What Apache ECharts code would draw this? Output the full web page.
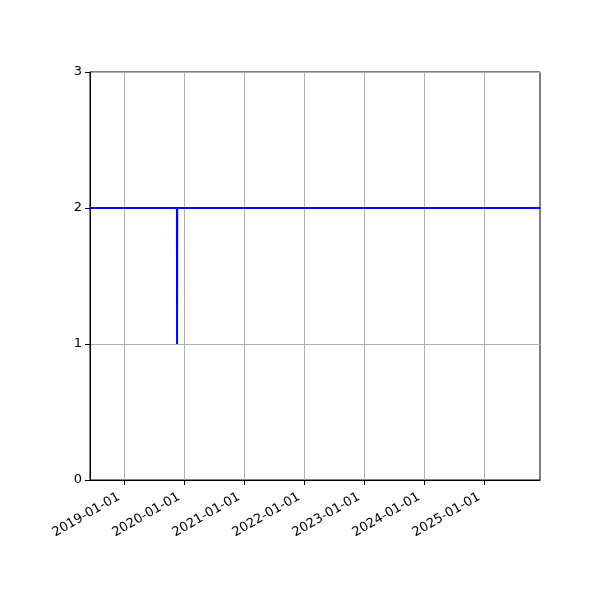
<!DOCTYPE html>
<html>
<head>
<meta charset="utf-8">
<script src="https://cdn.jsdelivr.net/npm/echarts@6/dist/echarts.min.js"></script>
<style>html,body{margin:0;padding:0;background:#fff}#c{width:600px;height:600px}</style>
</head>
<body>
<div id="c"></div>
<script>
// Data
var dates = ['2018-06-07', '2019-11-18', '2019-11-19', '2019-11-20', '2025-12-06'];
var values = [2, 2, 1, 2, 2];
var xTicks = ['2019-01-01', '2020-01-01', '2021-01-01', '2022-01-01', '2023-01-01', '2024-01-01', '2025-01-01'];
var yTicks = [0, 1, 2, 3];

function ts(s) { var p = s.split('-'); return Date.UTC(+p[0], +p[1] - 1, +p[2]); }
function fmt(v) {
  var d = new Date(v);
  var m = d.getUTCMonth() + 1, dd = d.getUTCDate();
  return d.getUTCFullYear() + '-' + (m < 10 ? '0' : '') + m + '-' + (dd < 10 ? '0' : '') + dd;
}

var xTickVals = xTicks.map(ts);
var chart = echarts.init(document.getElementById('c'), null, { renderer: 'canvas' });
chart.setOption({
  animation: false,
  backgroundColor: '#fff',
  textStyle: { fontFamily: 'DejaVu Sans' },
  grid: { left: 90, right: 60, top: 72, bottom: 120, show: true, borderColor: '#000', borderWidth: 1, containLabel: false },
  xAxis: {
    type: 'value',
    min: ts(dates[0]),
    max: ts(dates[dates.length - 1]),
    axisLine: { show: true, lineStyle: { color: '#000', width: 1 } },
    axisTick: { show: true, customValues: xTickVals, length: 5, lineStyle: { color: '#000' } },
    axisLabel: {
      customValues: xTickVals,
      formatter: function (v) { return fmt(v); },
      rotate: 30, color: '#000', fontSize: 13, margin: 13, padding: [0, 6, 0, 0], fontFamily: 'DejaVu Sans'
    },
    splitLine: { show: false }
  },
  yAxis: {
    type: 'value',
    min: yTicks[0], max: yTicks[yTicks.length - 1], interval: 1,
    axisLine: { show: true, lineStyle: { color: '#000', width: 1 } },
    axisTick: { show: true, length: 5, lineStyle: { color: '#000' } },
    axisLabel: { color: '#000', fontSize: 13, margin: 8, fontFamily: 'DejaVu Sans' },
    splitLine: { show: true, lineStyle: { color: '#b0b0b0', width: 1 } }
  },
  series: [
    {
      type: 'line',
      data: dates.map(function (d, i) { return [ts(d), values[i]]; }),
      showSymbol: false,
      lineStyle: { color: '#0000ff', width: 2 },
      z: 3,
      markLine: {
        silent: true, symbol: 'none', label: { show: false },
        lineStyle: { color: '#b0b0b0', width: 1, type: 'solid' },
        data: xTickVals.map(function (v) { return { xAxis: v }; }),
        z: 1
      }
    }
  ]
});
</script>
</body>
</html>
